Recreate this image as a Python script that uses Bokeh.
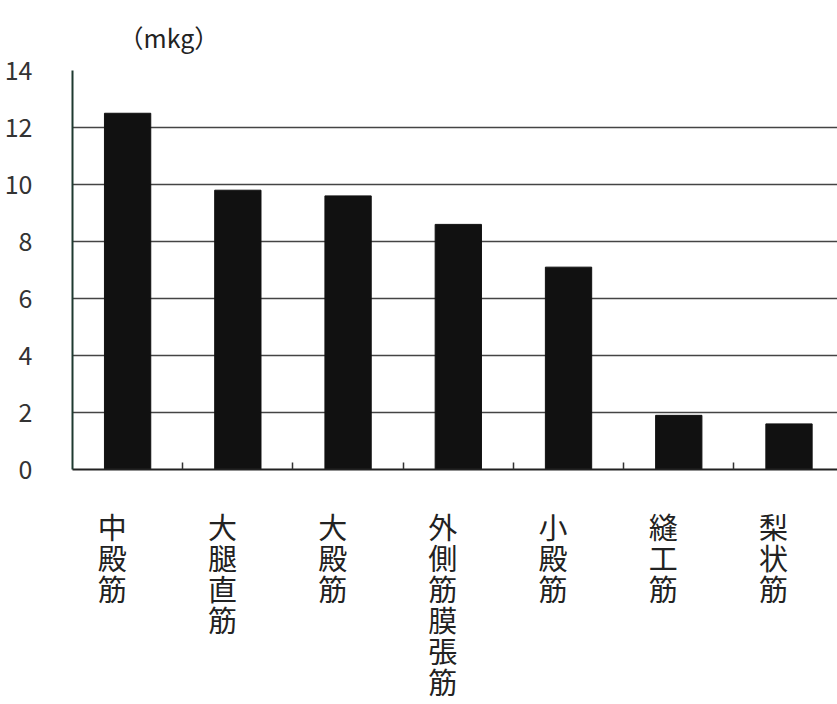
from bokeh.plotting import figure
from bokeh.models import FixedTicker, Range1d, ColumnDataSource
from bokeh.embed import file_html
from bokeh.resources import INLINE

categories = ["中殿筋", "大腿直筋", "大殿筋", "外側筋膜張筋", "小殿筋", "縫工筋", "梨状筋"]
values = [12.5, 9.8, 9.6, 8.6, 7.1, 1.9, 1.6]
y_ticks = [0, 2, 4, 6, 8, 10, 12, 14]
unit_label = "（mkg）"

FONT = "Noto Sans CJK JP"
n = len(categories)
centers = [i + 0.5 for i in range(n)]

src = ColumnDataSource(dict(x=centers, top=values))

p = figure(width=837, height=704, output_backend="svg", toolbar_location=None,
           x_range=Range1d(0, 6.94), y_range=Range1d(0, 14),
           min_border_left=72, min_border_right=0, min_border_top=70, min_border_bottom=235,
           title=unit_label)
p.outline_line_color = None
p.background_fill_color = "white"
p.border_fill_color = "white"

p.title.text_font = FONT
p.title.text_font_size = "25px"
p.title.text_font_style = "normal"
p.title.text_color = "#222222"
p.title.align = "left"
p.title.offset = 46
p.title.standoff = 31

p.vbar(x="x", top="top", bottom=0, width=0.42, source=src,
       fill_color="#111111", line_color="#111111")

# x axis
label_pos = [c - 0.14 for c in centers]
p.xaxis.ticker = FixedTicker(ticks=label_pos, minor_ticks=list(range(1, n)))
p.xaxis.major_label_overrides = {lp: "\n".join(list(c)) for lp, c in zip(label_pos, categories)}
p.xaxis.major_tick_line_color = None
p.xaxis.minor_tick_in = 7
p.xaxis.minor_tick_out = 0
p.xaxis.minor_tick_line_color = "#333333"
p.xaxis.minor_tick_line_width = 1.5
p.xaxis.axis_line_color = "#222222"
p.xaxis.axis_line_width = 2
p.xaxis.major_label_standoff = 29
p.xaxis.major_label_text_font = FONT
p.xaxis.major_label_text_font_size = "29px"
p.xaxis.major_label_text_color = "#222222"
p.xaxis.major_label_text_line_height = 0.74
p.xaxis.major_label_orientation = "horizontal"

# y axis
p.yaxis.ticker = FixedTicker(ticks=y_ticks)
p.yaxis.major_tick_line_color = None
p.yaxis.minor_tick_line_color = None
p.yaxis.axis_line_color = "#1f3a30"
p.yaxis.axis_line_width = 2
p.yaxis.major_label_standoff = 34
p.yaxis.major_label_text_font = FONT
p.yaxis.major_label_text_font_size = "25px"
p.yaxis.major_label_text_color = "#333333"

# grid
p.xgrid.grid_line_color = None
p.ygrid.ticker = FixedTicker(ticks=y_ticks)
p.ygrid.grid_line_color = "#444444"
p.ygrid.grid_line_width = 1.5

open("out.html", "w").write(file_html(p, INLINE))
